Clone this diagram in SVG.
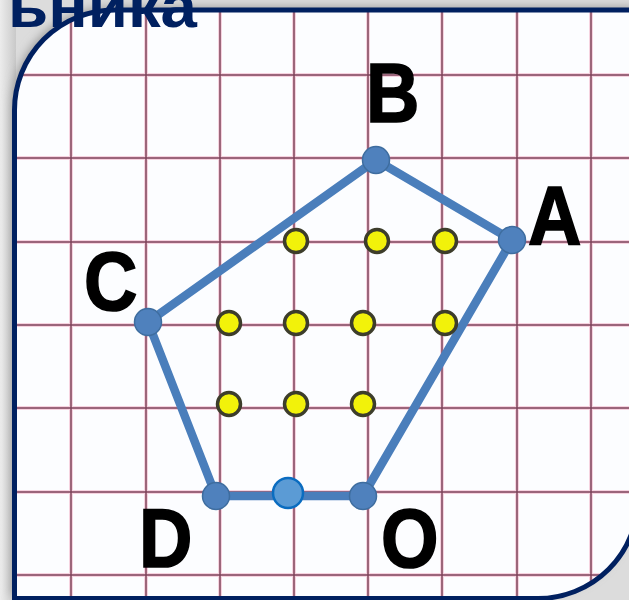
<svg xmlns="http://www.w3.org/2000/svg" width="629" height="600" viewBox="0 0 629 600">
  <defs>
    <linearGradient id="bgL" x1="0" y1="0" x2="1" y2="0">
      <stop offset="0" stop-color="#ececec"/>
      <stop offset="1" stop-color="#c9c9c9"/>
    </linearGradient>
    <filter id="sh" x="-10%" y="-10%" width="120%" height="120%">
      <feGaussianBlur stdDeviation="5"/>
    </filter>
    <clipPath id="frameClip">
      <path d="M114.5,10 H638 V498.5 A100,100 0 0 1 538,598.5 H14.5 V110 A100,100 0 0 1 114.5,10 Z"/>
    </clipPath>
    <style>
      .grid-halo { stroke: #f6d3e0; stroke-width: 4; fill: none; }
      .grid { stroke: #7e4259; stroke-width: 1.5; fill: none; }
      .edge { stroke: #4a7ebb; stroke-width: 8.5; stroke-linecap: round; }
      .vertex { fill: #4f81bd; stroke: #3e6d9f; stroke-width: 1.5; }
      .dot { fill: #f2f20a; stroke: #3d3d2b; stroke-width: 3.5; }
      .lbl { font-family: "Liberation Sans", Arial, sans-serif; font-weight: bold; font-size: 74px; fill: #000; stroke: #000; stroke-width: 1.5; }
      .title { font-family: "Liberation Sans", Arial, sans-serif; font-weight: bold; font-size: 62px; fill: #002060; }
    </style>
  </defs>

  <!-- background / shadow -->
  <rect x="0" y="0" width="629" height="600" fill="#dcdcdc"/>
  <rect x="0" y="0" width="16" height="600" fill="url(#bgL)"/>
  <path d="M114.5,10 H638 V498.5 A100,100 0 0 1 538,598.5 H14.5 V110 A100,100 0 0 1 114.5,10 Z" fill="#9a9a9a" filter="url(#sh)" transform="translate(-3,-3)"/>

  <!-- frame interior -->
  <path d="M114.5,10 H638 V498.5 A100,100 0 0 1 538,598.5 H14.5 V110 A100,100 0 0 1 114.5,10 Z" fill="#fcfdff"/>

  <!-- grid -->
  <g id="grid" clip-path="url(#frameClip)">
    <g class="grid-halo">
      <path d="M71,0V600M146,0V600M220,0V600M294,0V600M368,0V600M442,0V600M517,0V600M591,0V600"/>
      <path d="M0,75H629M0,158H629M0,242H629M0,325H629M0,408H629M0,492H629M0,575H629"/>
    </g>
    <g class="grid">
      <path d="M71,0V600M146,0V600M220,0V600M294,0V600M368,0V600M442,0V600M517,0V600M591,0V600"/>
      <path d="M0,75H629M0,158H629M0,242H629M0,325H629M0,408H629M0,492H629M0,575H629"/>
    </g>
  </g>

  <!-- frame border -->
  <path id="frame" d="M114.5,10 H638 V498.5 A100,100 0 0 1 538,598.5 H14.5 V110 A100,100 0 0 1 114.5,10 Z" fill="none" stroke="#002060" stroke-width="5"/>

  <!-- title fragment -->
  <text class="title" x="8" y="27" textLength="189" lengthAdjust="spacingAndGlyphs">ьника</text>

  <!-- connectors -->
  <g id="connectors">
    <line class="edge" x1="376" y1="160" x2="512" y2="240"/>
    <line class="edge" x1="512" y1="240" x2="363" y2="496"/>
    <line class="edge" x1="363" y1="496" x2="216" y2="496"/>
    <line class="edge" x1="216" y1="496" x2="148" y2="322"/>
    <line class="edge" x1="148" y1="322" x2="376" y2="160"/>
  </g>

  <!-- interior dots -->
  <g id="dots">
    <circle class="dot" cx="296" cy="241" r="11.5"/>
    <circle class="dot" cx="377" cy="241" r="11.5"/>
    <circle class="dot" cx="445" cy="241" r="11.5"/>
    <circle class="dot" cx="229" cy="323" r="11.5"/>
    <circle class="dot" cx="296" cy="323" r="11.5"/>
    <circle class="dot" cx="363" cy="323" r="11.5"/>
    <circle class="dot" cx="445" cy="323" r="11.5"/>
    <circle class="dot" cx="229" cy="404" r="11.5"/>
    <circle class="dot" cx="296" cy="404" r="11.5"/>
    <circle class="dot" cx="363" cy="404" r="11.5"/>
  </g>

  <!-- vertices -->
  <g id="node-B">
    <circle class="vertex" cx="376" cy="160" r="13.5"/>
    <text class="lbl" transform="translate(366,122) scale(1,1.12)">B</text>
  </g>
  <g id="node-A">
    <circle class="vertex" cx="512" cy="240" r="13.5"/>
    <text class="lbl" transform="translate(528,245) scale(1,1.12)">A</text>
  </g>
  <g id="node-C">
    <circle class="vertex" cx="148" cy="322" r="13.5"/>
    <text class="lbl" transform="translate(84,310) scale(1,1.12)">C</text>
  </g>
  <g id="node-D">
    <circle class="vertex" cx="216" cy="496" r="13.5"/>
    <text class="lbl" transform="translate(139,567) scale(1,1.12)">D</text>
  </g>
  <g id="node-O">
    <circle class="vertex" cx="363" cy="496" r="13.5"/>
    <text class="lbl" transform="translate(381,567) scale(1,1.12)">O</text>
  </g>
  <g id="node-mid">
    <circle cx="288" cy="493" r="15" fill="#5b9bd5" stroke="#0a6cc0" stroke-width="2.5"/>
  </g>
</svg>
